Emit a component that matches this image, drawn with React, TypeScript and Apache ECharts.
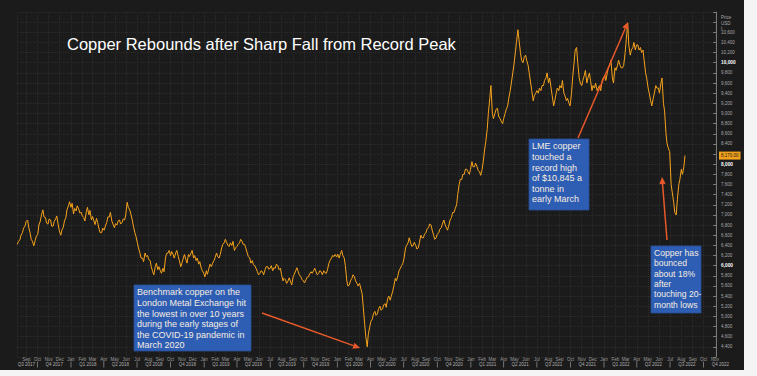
import React, { useEffect, useRef } from "react";
import * as echarts from "echarts";

const TITLE = "Copper Rebounds after Sharp Fall from Record Peak";
// LME copper (USD/t), two readings a week (Monday, Thursday), starting Monday 2017-08-07
const FIRST_WEEK = [2017, 7, 7];
const P2017 = [6420, 6480, 6510, 6600, 6650, 6740, 6780, 6870, 6900, 6760, 6640, 6520, 6470, 6390, 6500, 6580, 6620, 6800, 6880, 7000, 7100, 6960, 6950, 6840, 6820, 6920, 6900, 6780, 6780, 6870, 6920, 6980, 6800, 6690, 6600, 6700, 6760, 6880, 6950, 7100, 7180, 7260];
const P2018 = [7150, 7230, 7020, 7130, 7080, 7180, 7120, 7040, 7050, 6980,
  6950, 6880, 7060, 7150, 7000, 7090, 6900, 6970,
  6880, 6810, 6930, 6850, 6720, 6650, 6650, 6740,
  6700, 6780, 6850, 6960, 6960, 7050, 6880, 6820, 6750, 6830,
  6800, 6880, 6900, 6820, 6850, 6920, 6900, 7000,
  7250, 7150, 7100, 7020, 6900, 6780, 6650, 6580,
  6450, 6350, 6250, 6150, 6150, 6080, 6250, 6180, 6200, 6120,
  6100, 5980, 5880, 5820, 5980, 6050, 5920, 5980,
  5900, 5850, 5950, 5880, 6150, 6240, 6250, 6300,
  6200, 6280, 6220, 6150, 6250, 6300, 6180, 6100, 5980, 6050,
  6150, 6220, 6120, 6050, 6220, 6180, 6250, 6300,
  6150, 6200, 6100, 6150, 6030, 6080, 5950, 5900, 5850, 5780];
const P2019 = [5900, 5830, 5950, 6030, 5980, 6050, 6100, 6160,
  6250, 6180, 6150, 6220, 6350, 6420, 6450, 6520,
  6450, 6400, 6380, 6450, 6400, 6480, 6300, 6350,
  6380, 6420, 6450, 6520, 6480, 6420, 6420, 6350, 6250, 6180,
  6150, 6050, 6100, 6020, 6000, 5950, 5880, 5820,
  5850, 5900, 5880, 5820, 5920, 5980, 5980, 5930,
  5950, 6000, 5900, 5960, 5950, 6030, 6000, 5920, 5950, 5830,
  5700, 5750, 5720, 5650, 5700, 5760, 5680, 5620,
  5780, 5830, 5900, 5960, 5880, 5820, 5780, 5730, 5700, 5660,
  5720, 5770, 5780, 5840, 5880, 5850, 5900, 5950,
  5880, 5820, 5850, 5900, 5880, 5820, 5900, 5860,
  5850, 5920, 6050, 6100, 6150, 6200, 6180, 6220, 6170, 6230];
const P2020 = [6150, 6220, 6300, 6200, 6150, 6000, 5700, 5600,
  5620, 5700, 5750, 5820, 5780, 5700, 5650, 5600,
  5650, 5560, 5450, 5200, 4850, 4600, 4400, 4650, 4800, 4900,
  4950, 5050, 5100, 5020, 5050, 5150, 5200, 5120,
  5150, 5230, 5250, 5180, 5350, 5400, 5320, 5400,
  5500, 5600, 5750, 5700, 5800, 5900, 5950, 6000, 6050, 6150,
  6350, 6400, 6450, 6550, 6450, 6380, 6400, 6460,
  6400, 6330, 6350, 6450, 6600, 6550, 6550, 6620, 6650, 6720,
  6750, 6820, 6800, 6700, 6600, 6520, 6550, 6620,
  6650, 6720, 6750, 6820, 6900, 6820, 6750, 6700,
  6800, 6900, 6950, 7050, 7050, 7120, 7200, 7400, 7600, 7700,
  7700, 7800, 7800, 7900, 7900, 7850, 7800, 7900];
const P2021 = [8050, 7950, 7950, 8020, 7950, 7880, 7850, 7780,
  7900, 8050, 8300, 8450, 8700, 9000, 9300, 9550,
  9000, 8900, 9000, 9080, 9100, 8950, 8900, 8850, 8800, 8900,
  9000, 9080, 9150, 9300, 9450, 9600, 9800, 9950,
  10200, 10400, 10650, 10450, 10200, 10050, 10000, 10100, 10150, 10050,
  9950, 9800, 9600, 9450, 9250, 9350, 9400, 9450,
  9400, 9500, 9450, 9550, 9550, 9650, 9700, 9800,
  9600, 9700, 9500, 9350, 9150, 9250, 9400, 9500, 9450, 9550,
  9500, 9650, 9400, 9350, 9250, 9300, 9200, 9150,
  9400, 9700, 10000, 10250, 10300, 10000, 9700, 9600,
  9550, 9650, 9750, 9850, 9600, 9700, 9800, 9650, 9450, 9550,
  9500, 9600, 9450, 9500, 9550, 9450, 9650, 9700];
const P2022 = [9750, 9650, 9800, 9900, 9950, 10050, 9700, 9600, 9900, 9850,
  9950, 10050, 9950, 9900, 9900, 9950, 10200, 10450,
  10780, 10350, 10150, 10250, 10300, 10400, 10250, 10350,
  10350, 10250, 10300, 10200, 10250, 10050, 9800, 9700,
  9500, 9400, 9250, 9150, 9300, 9400, 9550, 9500, 9500, 9400,
  9600, 9700, 9200, 9050, 8600, 8400, 8300, 8250,
  7600, 7450, 7250, 7050, 7000, 7300, 7600, 7700,
  7900, 7800, 7950, 8170];

const MONTH_NAMES = ["Jan", "Feb", "Mar", "Apr", "May", "Jun", "Jul", "Aug", "Sep", "Oct", "Nov", "Dec"];
const Y_MIN = 4200;
const Y_MAX = 11000;
const Y_STEP = 200;
const LABEL_LOW = 4400;
const LABEL_HIGH = 10600;

const NOTE_LOW = ["Benchmark copper on the", "London Metal Exchange hit", "the lowest in over 10 years", "during the early stages of", "the COVID-19 pandemic in", "March 2020"];
const NOTE_HIGH = ["LME copper", "touched a", "record high", "of $10,845 a", "tonne in", "early March"];
const NOTE_BOUNCE = ["Copper has", "bounced", "about 18%", "after", "touching 20-", "month lows"];

const FONT = "'Liberation Sans', Arial, sans-serif";

function arrow(x1: number, y1: number, x2: number, y2: number, color: string) {
  const ang = Math.atan2(y2 - y1, x2 - x1);
  const L = 7, W = 3.2;
  const bx = x2 - L * Math.cos(ang), by = y2 - L * Math.sin(ang);
  const px = -Math.sin(ang) * W, py = Math.cos(ang) * W;
  return [
    { type: "line", z: 100, shape: { x1, y1, x2: bx, y2: by }, style: { stroke: color, lineWidth: 1.5 } },
    { type: "polygon", z: 100, shape: { points: [[x2, y2], [bx + px, by + py], [bx - px, by - py]] }, style: { fill: color } },
  ];
}

function note(x: number, y: number, w: number, h: number, lines: string[], fs: number, lh: number) {
  return [
    { type: "rect", z: 100, shape: { x, y, width: w, height: h }, style: { fill: "#2d5eb3", stroke: "#274f98", lineWidth: 0.8 } },
    { type: "text", z: 101, x: x + 3, y: y + 2, style: { text: lines.join("\n"), fill: "#f6ece2", fontSize: fs, lineHeight: lh, fontFamily: FONT } },
  ];
}

export default function App() {
  const ref = useRef<HTMLDivElement>(null);
  useEffect(() => {
    if (!ref.current) return;
    const chart = echarts.init(ref.current, undefined, { renderer: "svg" });
    const prices = [...P2017, ...P2018, ...P2019, ...P2020, ...P2021, ...P2022];
    const data = prices.map((p, i) => [
      new Date(FIRST_WEEK[0], FIRST_WEEK[1], FIRST_WEEK[2] + 7 * Math.floor(i / 2) + (i % 2) * 3).getTime(),
      p,
    ]);
    const last = prices[prices.length - 1];
    const xMin = new Date(2017, 7, 6).getTime();
    const xMax = new Date(2022, 10, 4).getTime();
    const day = 86400000;
    const fmt = (v: number) => v.toLocaleString("en-US");

    chart.setOption({
      animation: false,
      backgroundColor: "#1b1b1b",
      grid: { left: 17, right: 41, top: 12, bottom: 19 },
      xAxis: {
        type: "time",
        min: xMin,
        max: xMax,
        splitNumber: 62,
        minInterval: 28 * day,
        maxInterval: 31 * day,
        axisLine: { show: false },
        axisTick: { show: false },
        splitLine: { show: true, lineStyle: { color: "#2b2b2b", type: "dotted", width: 1 } },
        axisLabel: {
          margin: 0,
          showMinLabel: false,
          showMaxLabel: false,
          hideOverlap: false,
          formatter: (v: number) => {
            const d = new Date(v);
            const m = d.getMonth();
            const y = d.getFullYear();
            let second = "{e| }";
            if (y === 2017 && m === 8) second = `{q0|Q3 ${y}}`;
            else if (m % 3 === 1) second = `{q|Q${Math.floor(m / 3) + 1} ${y}}`;
            else if (m % 3 === 0) second = "{s| }";
            return `{m|${MONTH_NAMES[m]}}\n${second}`;
          },
          rich: {
            m: { fontSize: 4.5, lineHeight: 5, color: "#9c9c9c", fontFamily: FONT },
            q: { fontSize: 4.5, lineHeight: 5, color: "#b0b0b0", fontFamily: FONT, padding: [0, 0, 0, 11] },
            q0: { fontSize: 4.5, lineHeight: 5, color: "#b0b0b0", fontFamily: FONT },
            s: { fontSize: 4.5, lineHeight: 5, width: 0.8, height: 6, backgroundColor: "#8a8a8a" },
            e: { fontSize: 4.5, lineHeight: 5 },
          },
        },
      },
      yAxis: {
        type: "value",
        position: "right",
        min: Y_MIN,
        max: Y_MAX,
        interval: Y_STEP,
        axisLine: { show: true, lineStyle: { color: "#7a7a7a", width: 1 } },
        axisTick: { show: true, inside: true, length: 3, lineStyle: { color: "#7a7a7a" } },
        splitLine: { show: true, lineStyle: { color: "#2b2b2b", type: "dotted", width: 1 } },
        axisLabel: {
          margin: 5,
          formatter: (v: number) => {
            if (v < LABEL_LOW || v > LABEL_HIGH) return "";
            if (Math.abs(v - last) < 100) return "";
            return v % 2000 === 0 ? `{b|${fmt(v)}}` : `{n|${fmt(v)}}`;
          },
          rich: {
            n: { fontSize: 4.5, color: "#a8a8a8", fontFamily: FONT },
            b: { fontSize: 4.8, color: "#ffffff", fontWeight: "bold", fontFamily: FONT },
          },
        },
      },
      series: [
        {
          type: "line",
          data,
          showSymbol: false,
          symbol: "none",
          lineStyle: { color: "#f6a31d", width: 1 },
          z: 5,
          markLine: {
            silent: true,
            symbol: "none",
            lineStyle: { color: "rgba(0,0,0,0)", width: 0 },
            data: [{ yAxis: last }],
            label: {
              show: true,
              position: "end",
              distance: 3,
              formatter: () => last.toLocaleString("en-US", { minimumFractionDigits: 2 }),
              backgroundColor: "#f2a11c",
              color: "#1a1a1a",
              fontSize: 4.5,
              fontFamily: FONT,
              padding: [1.5, 2],
            },
          },
        },
      ],
      graphic: [
        { type: "rect", z: 120, shape: { x: 744, y: 0, width: 13, height: 376 }, style: { fill: "#f4f4f4" } },
        { type: "rect", z: 120, shape: { x: 0, y: 370, width: 757, height: 6 }, style: { fill: "#f4f4f4" } },
        { type: "text", z: 100, x: 67, y: 44, style: { text: TITLE, fill: "#ffffff", fontSize: 16.5, fontFamily: FONT, verticalAlign: "middle" } },
        { type: "text", z: 100, x: 721, y: 15, style: { text: "Price\nUSD\nt", fill: "#a8a8a8", fontSize: 4.5, lineHeight: 5.5, fontFamily: FONT } },
        ...note(134, 285, 117, 66, NOTE_LOW, 9, 10.6),
        ...note(529, 139, 60, 71, NOTE_HIGH, 9, 10.6),
        ...note(651, 246, 50, 67, NOTE_BOUNCE, 8.6, 10.3),
        ...arrow(262, 313, 360, 348, "#e8592a"),
        ...arrow(578, 138, 628, 22, "#e8592a"),
        ...arrow(667, 240, 662, 177, "#e8592a"),
      ],
    });
    return () => chart.dispose();
  }, []);
  return <div ref={ref} style={{ position: "fixed", left: 0, top: 0, width: 757, height: 376 }} />;
}
